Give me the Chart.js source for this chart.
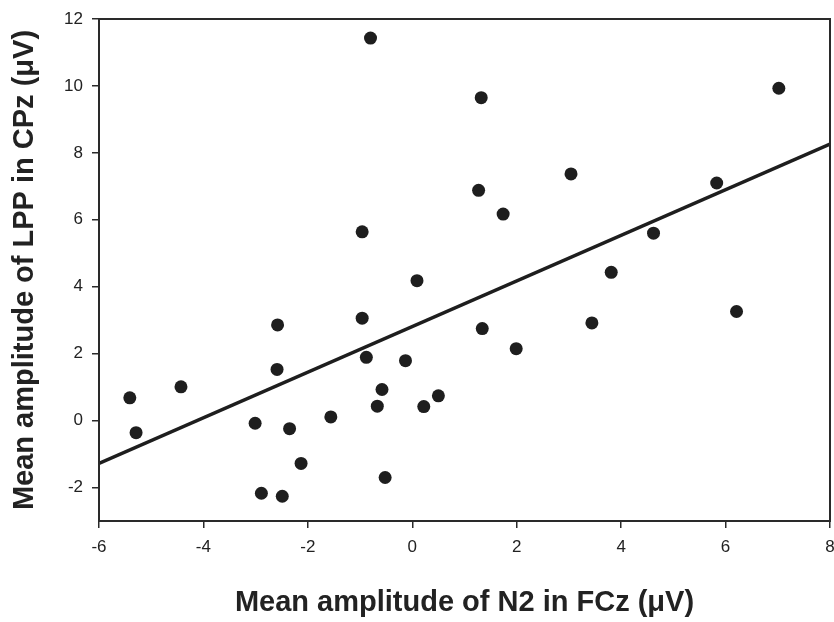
<!DOCTYPE html>
<html>
<head>
<meta charset="utf-8">
<script src="https://cdn.jsdelivr.net/npm/chart.js@4/dist/chart.umd.min.js"></script>
<style>
  html, body { margin: 0; padding: 0; background: #ffffff; }
  #wrap { width: 834px; height: 622px; position: relative; }
</style>
</head>
<body>
<div id="wrap"><canvas id="c" width="834" height="622"></canvas></div>
<script>
// Data (N2 in FCz vs LPP in CPz, µV)
const n2Values = [-0.80, -0.96, 1.32, 7.02, 3.04, 1.27, 1.74, 5.83, 4.62, 3.81,
                  6.21, 3.44, 1.34, 1.99, 0.09, -0.96, -2.58, -0.88, -0.13, -2.59,
                  -0.58, 0.50, -0.67, 0.22, -4.43, -5.41, -5.29, -1.56, -3.01, -2.35,
                  -2.13, -0.52, -2.89, -2.49];
const lppValues = [11.43, 5.64, 9.65, 9.93, 7.37, 6.88, 6.17, 7.10, 5.60, 4.43,
                   3.26, 2.92, 2.75, 2.15, 4.18, 3.06, 2.86, 1.89, 1.79, 1.53,
                   0.93, 0.74, 0.43, 0.42, 1.01, 0.68, -0.36, 0.11, -0.08, -0.24,
                   -1.28, -1.70, -2.17, -2.26];
const fitX = [-6, 8];
const fitY = [-1.28, 8.26];
const xTickValues = [-6, -4, -2, 0, 2, 4, 6, 8];
const yTickValues = [-2, 0, 2, 4, 6, 8, 10, 12];
const xTitle = 'Mean amplitude of N2 in FCz (\u03bcV)';
const yTitle = 'Mean amplitude of LPP in CPz (\u03bcV)';

const ink = '#1e1e1e';
const points = n2Values.map((x, i) => ({ x: x, y: lppValues[i] }));
const fitLine = fitX.map((x, i) => ({ x: x, y: fitY[i] }));

const framePlugin = {
  id: 'frame',
  afterDatasetsDraw(chart) {
    const a = chart.chartArea, ctx = chart.ctx;
    ctx.save();
    ctx.strokeStyle = '#2a2a2a';
    ctx.lineWidth = 2;
    ctx.strokeRect(a.left, a.top, a.right - a.left, a.bottom - a.top);
    ctx.restore();
  }
};

const fam = 'Liberation Sans, Arial, sans-serif';

new Chart(document.getElementById('c'), {
  type: 'scatter',
  data: {
    datasets: [
      {
        type: 'line',
        data: fitLine,
        borderColor: ink,
        borderWidth: 3.5,
        pointRadius: 0,
        fill: false,
        showLine: true,
        order: 1
      },
      {
        data: points,
        backgroundColor: ink,
        borderColor: ink,
        borderWidth: 0,
        pointRadius: 6.5,
        pointHoverRadius: 6.5,
        order: 0
      }
    ]
  },
  plugins: [framePlugin],
  options: {
    responsive: false,
    animation: false,
    layout: { autoPadding: false, padding: { top: 19, right: 4, left: 0, bottom: 0 } },
    plugins: { legend: { display: false }, tooltip: { enabled: false } },
    scales: {
      x: {
        type: 'linear',
        min: -6, max: 8,
        afterBuildTicks: s => { s.ticks = xTickValues.map(v => ({ value: v })); },
        afterFit: s => { s.height = 101; s.paddingRight = 0; s.paddingLeft = 0; },
        grid: { drawOnChartArea: false, drawTicks: true, tickLength: 7, color: '#2a2a2a', lineWidth: 1.5 },
        border: { display: true, color: '#2a2a2a', width: 2 },
        ticks: { color: '#222', font: { family: fam, size: 17 }, padding: 9, maxRotation: 0 },
        title: { display: true, text: xTitle, color: '#222',
                 font: { family: fam, size: 29, weight: 'bold' },
                 padding: { top: 0, bottom: 2 } }
      },
      y: {
        type: 'linear',
        min: -3, max: 12,
        afterBuildTicks: s => { s.ticks = yTickValues.map(v => ({ value: v })); },
        afterFit: s => { s.width = 99; s.paddingTop = 0; s.paddingBottom = 0; },
        grid: { drawOnChartArea: false, drawTicks: true, tickLength: 7, color: '#2a2a2a', lineWidth: 1.5 },
        border: { display: true, color: '#2a2a2a', width: 2 },
        ticks: { color: '#222', font: { family: fam, size: 17 }, padding: 9 },
        title: { display: true, text: yTitle, color: '#222',
                 font: { family: fam, size: 29, weight: 'bold' },
                 padding: { top: 8, bottom: 0 } }
      }
    }
  }
});
</script>
</body>
</html>
